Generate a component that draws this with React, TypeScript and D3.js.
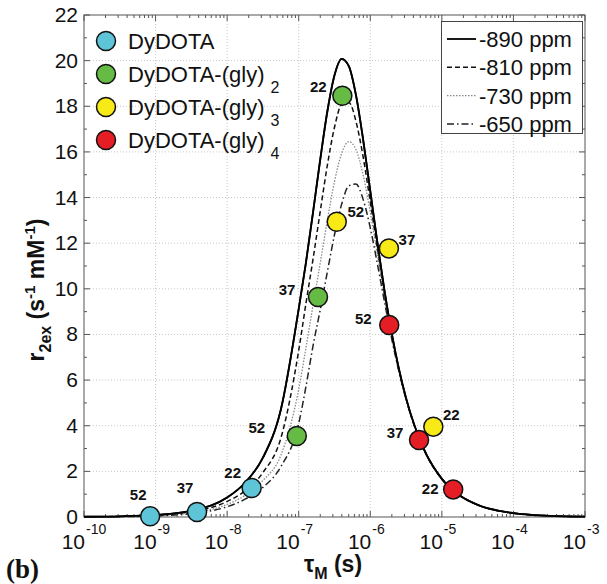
import React from "react";
import * as d3 from "d3";

// ---------- data ----------
const curveLogTau = [-10, -9.5, -9, -8.5, -8, -7.75, -7.5, -7.25, -7, -6.9, -6.8, -6.7, -6.6, -6.5, -6.4, -6.3, -6.2, -6.1, -6.0, -5.9, -5.8, -5.7, -5.6, -5.5, -5.25, -5, -4.75, -4.5, -4, -3.5, -3];
const r890 = [0.01, 0.03, 0.09, 0.28, 0.85, 1.5, 2.6, 4.7, 9.12, 11.13, 13.35, 15.65, 17.77, 19.36, 20.08, 19.76, 18.49, 16.54, 14.28, 12.0, 9.89, 8.05, 6.49, 5.21, 2.96, 1.67, 0.94, 0.53, 0.168, 0.053, 0.017];
const r810 = [0.008, 0.024, 0.075, 0.23, 0.68, 1.15, 1.95, 3.45, 7.3, 9.34, 11.3, 13.38, 15.41, 17.08, 18.08, 18.17, 17.34, 15.78, 13.8, 11.71, 9.72, 7.95, 6.43, 5.17, 2.95, 1.66, 0.94, 0.53, 0.167, 0.053, 0.017];
const r730 = [0.006, 0.019, 0.06, 0.185, 0.55, 0.95, 1.6, 2.7, 5.6, 7.4, 9.28, 11.12, 13.0, 14.7, 15.94, 16.45, 16.1, 14.99, 13.36, 11.5, 9.64, 7.93, 6.45, 5.2, 2.98, 1.68, 0.95, 0.53, 0.169, 0.053, 0.017];
const r650 = [0.005, 0.015, 0.047, 0.15, 0.45, 0.78, 1.3, 2.2, 4.1, 5.7, 7.5, 9.07, 10.74, 12.37, 13.71, 14.51, 14.59, 13.92, 12.67, 11.08, 9.4, 7.8, 6.38, 5.16, 2.97, 1.68, 0.95, 0.533, 0.169, 0.053, 0.017];
const curveNames = ["-890 ppm", "-810 ppm", "-730 ppm", "-650 ppm"];

const seriesNames = ["DyDOTA", "DyDOTA-(gly)", "DyDOTA-(gly)", "DyDOTA-(gly)"];
const seriesSubs = ["", "2", "3", "4"];
const tauDyDOTA = [8.4e-10, 3.8e-9, 2.2e-8];
const rDyDOTA = [0.03, 0.22, 1.27];
const tauGly2 = [9.4e-8, 1.86e-7, 4.07e-7];
const rGly2 = [3.55, 9.64, 18.46];
const tauGly3 = [3.4e-7, 1.82e-6, 7.6e-6];
const rGly3 = [12.94, 11.77, 3.96];
const tauGly4 = [1.84e-6, 4.8e-6, 1.44e-5];
const rGly4 = [8.41, 3.37, 1.21];
const tempLabels = ["52", "37", "22"];

const xTickExps = [-10, -9, -8, -7, -6, -5, -4, -3];
const yTicks = [0, 2, 4, 6, 8, 10, 12, 14, 16, 18, 20, 22];

// ---------- styles ----------
const colors = ["#5ec5d8", "#66bb44", "#f7ea16", "#e51e25"];
// label offsets (px) relative to each marker
const labelOffsets = [
  [[-12, -21], [-12, -24], [-19, -15]],
  [[-40, -8], [-31, -7], [-24, -9]],
  [[19, -10], [18, -8], [18, -12]],
  [[-26, -6], [-24, -7], [-23, 0]],
];
const lineStyles = [
  { dash: "none", color: "#000", w: 1.8 },
  { dash: "5,3", color: "#111", w: 1.5 },
  { dash: "1.5,1.5", color: "#888", w: 1.3 },
  { dash: "7,3,1.5,3", color: "#222", w: 1.5 },
];

const W = 607, H = 584;
const L = 84, R = 585, T = 15, B = 517;
const SANS = "'Liberation Sans', Arial, Helvetica, sans-serif";

export default function App() {
  const x = d3.scaleLog().domain([1e-10, 1e-3]).range([L, R]);
  const y = d3.scaleLinear().domain([0, 22]).range([B, T]);

  const tauCurve = curveLogTau.map((e) => Math.pow(10, e));
  const curves = [r890, r810, r730, r650];
  const line = d3
    .line<number>()
    .x((_, i) => x(tauCurve[i]))
    .y((d) => y(d))
    .curve(d3.curveMonotoneX);

  const series = [
    { tau: tauDyDOTA, r: rDyDOTA, labels: tempLabels },
    { tau: tauGly2, r: rGly2, labels: tempLabels },
    { tau: tauGly3, r: rGly3, labels: tempLabels },
    { tau: tauGly4, r: rGly4, labels: tempLabels },
  ];

  const minorX: number[] = [];
  for (let e = -10; e < -3; e++) {
    for (let k = 2; k <= 9; k++) minorX.push(k * Math.pow(10, e));
  }
  const minorY = d3.range(1, 22, 2);
  const axisColor = "#555";

  return (
    <svg width={W} height={H} style={{ position: "absolute", left: 0, top: 0, background: "#fff" }}>
      <rect x={0} y={0} width={W} height={H} fill="#fff" />
      {/* grid */}
      <g stroke="#c8c8c8" strokeWidth={1} strokeDasharray="1,2">
        {xTickExps.slice(1, -1).map((e) => (
          <line key={"gx" + e} x1={x(Math.pow(10, e))} x2={x(Math.pow(10, e))} y1={T} y2={B} />
        ))}
        {yTicks.slice(1, -1).map((v) => (
          <line key={"gy" + v} x1={L} x2={R} y1={y(v)} y2={y(v)} />
        ))}
      </g>

      {/* curves */}
      {curves.map((c, i) => (
        <path
          key={"c" + i}
          d={line(c) || ""}
          fill="none"
          stroke={lineStyles[i].color}
          strokeWidth={lineStyles[i].w}
          strokeDasharray={lineStyles[i].dash}
        />
      ))}

      {/* axes box and ticks */}
      <g stroke={axisColor} strokeWidth={1}>
        <rect x={L} y={T} width={R - L} height={B - T} fill="none" />
        {xTickExps.map((e) => {
          const px = x(Math.pow(10, e));
          return (
            <g key={"tx" + e}>
              <line x1={px} x2={px} y1={B} y2={B - 6} />
              <line x1={px} x2={px} y1={T} y2={T + 6} />
            </g>
          );
        })}
        {minorX.map((v, i) => {
          const px = x(v);
          return (
            <g key={"mx" + i}>
              <line x1={px} x2={px} y1={B} y2={B - 3} />
              <line x1={px} x2={px} y1={T} y2={T + 3} />
            </g>
          );
        })}
        {yTicks.map((v) => (
          <g key={"ty" + v}>
            <line x1={L} x2={L + 6} y1={y(v)} y2={y(v)} />
            <line x1={R} x2={R - 6} y1={y(v)} y2={y(v)} />
          </g>
        ))}
        {minorY.map((v) => (
          <g key={"my" + v}>
            <line x1={L} x2={L + 3} y1={y(v)} y2={y(v)} />
            <line x1={R} x2={R - 3} y1={y(v)} y2={y(v)} />
          </g>
        ))}
      </g>

      {/* solid curve drawn over axis */}
      <path d={line(r890) || ""} fill="none" stroke="#000" strokeWidth={1.8} />

      {/* tick labels */}
      <g fontFamily={SANS} fill="#111">
        {yTicks.map((v) => (
          <text key={"yl" + v} x={78} y={y(v) + 7} fontSize={21} textAnchor="end">
            {v}
          </text>
        ))}
        {xTickExps.map((e) => {
          const px = x(Math.pow(10, e));
          return (
            <g key={"xl" + e}>
              <text x={px + 1} y={549} fontSize={21} textAnchor="end">
                10
              </text>
              <text x={px + 2} y={534} fontSize={14} textAnchor="start">
                {String(e)}
              </text>
            </g>
          );
        })}
      </g>

      {/* data points */}
      {series.map((s, si) =>
        s.tau.map((t, i) => (
          <g key={"p" + si + "-" + i}>
            <circle cx={x(t)} cy={y(s.r[i])} r={9.5} fill={colors[si]} stroke="#111" strokeWidth={1.5} />
            <text
              x={x(t) + labelOffsets[si][i][0]}
              y={y(s.r[i]) + labelOffsets[si][i][1] + 5}
              fontFamily={SANS}
              fontWeight="bold"
              fontSize={15}
              textAnchor="middle"
              fill="#111"
            >
              {s.labels[i]}
            </text>
          </g>
        ))
      )}

      {/* marker legend */}
      <g fontFamily={SANS} fill="#111">
        {seriesNames.map((n, i) => (
          <g key={"lg" + i}>
            <circle cx={106} cy={41 + i * 33} r={9.5} fill={colors[i]} stroke="#111" strokeWidth={1.5} />
            <text x={128} y={41 + i * 33 + 7.5} fontSize={22}>
              {n}
              {seriesSubs[i] && (
                <tspan dx={6} dy={11} fontSize={16}>
                  {seriesSubs[i]}
                </tspan>
              )}
            </text>
          </g>
        ))}
      </g>

      {/* line legend */}
      <g>
        <rect x={441.5} y={21.5} width={141} height={112} fill="#fff" stroke="#444" strokeWidth={1} />
        {curveNames.map((n, i) => (
          <g key={"ll" + i}>
            <line
              x1={447}
              x2={476}
              y1={39 + i * 28.3}
              y2={39 + i * 28.3}
              stroke={lineStyles[i].color}
              strokeWidth={lineStyles[i].w}
              strokeDasharray={lineStyles[i].dash}
            />
            <text x={479} y={39 + i * 28.3 + 8} fontSize={22} fontFamily={SANS} fill="#111">
              {n}
            </text>
          </g>
        ))}
      </g>

      {/* axis titles */}
      <text
        transform="translate(44,290) rotate(-90)"
        textAnchor="middle"
        fontFamily={SANS}
        fontWeight="bold"
        fontSize={23}
        fill="#111"
      >
        r<tspan dy={7} fontSize={16}>2ex</tspan>
        <tspan dy={-7}> (s</tspan>
        <tspan dy={-9} fontSize={15}>-1</tspan>
        <tspan dy={9}> mM</tspan>
        <tspan dy={-9} fontSize={15}>-1</tspan>
        <tspan dy={9}>)</tspan>
      </text>
      <text x={333} y={572} textAnchor="middle" fontFamily={SANS} fontWeight="bold" fontSize={23} fill="#111">
        τ<tspan dy={7} fontSize={16}>M</tspan>
        <tspan dy={-7}> (s)</tspan>
      </text>
      <text x={6} y={578} fontFamily="'Liberation Serif', 'Times New Roman', serif" fontWeight="bold" fontSize={27} fill="#111">
        (b)
      </text>
    </svg>
  );
}
